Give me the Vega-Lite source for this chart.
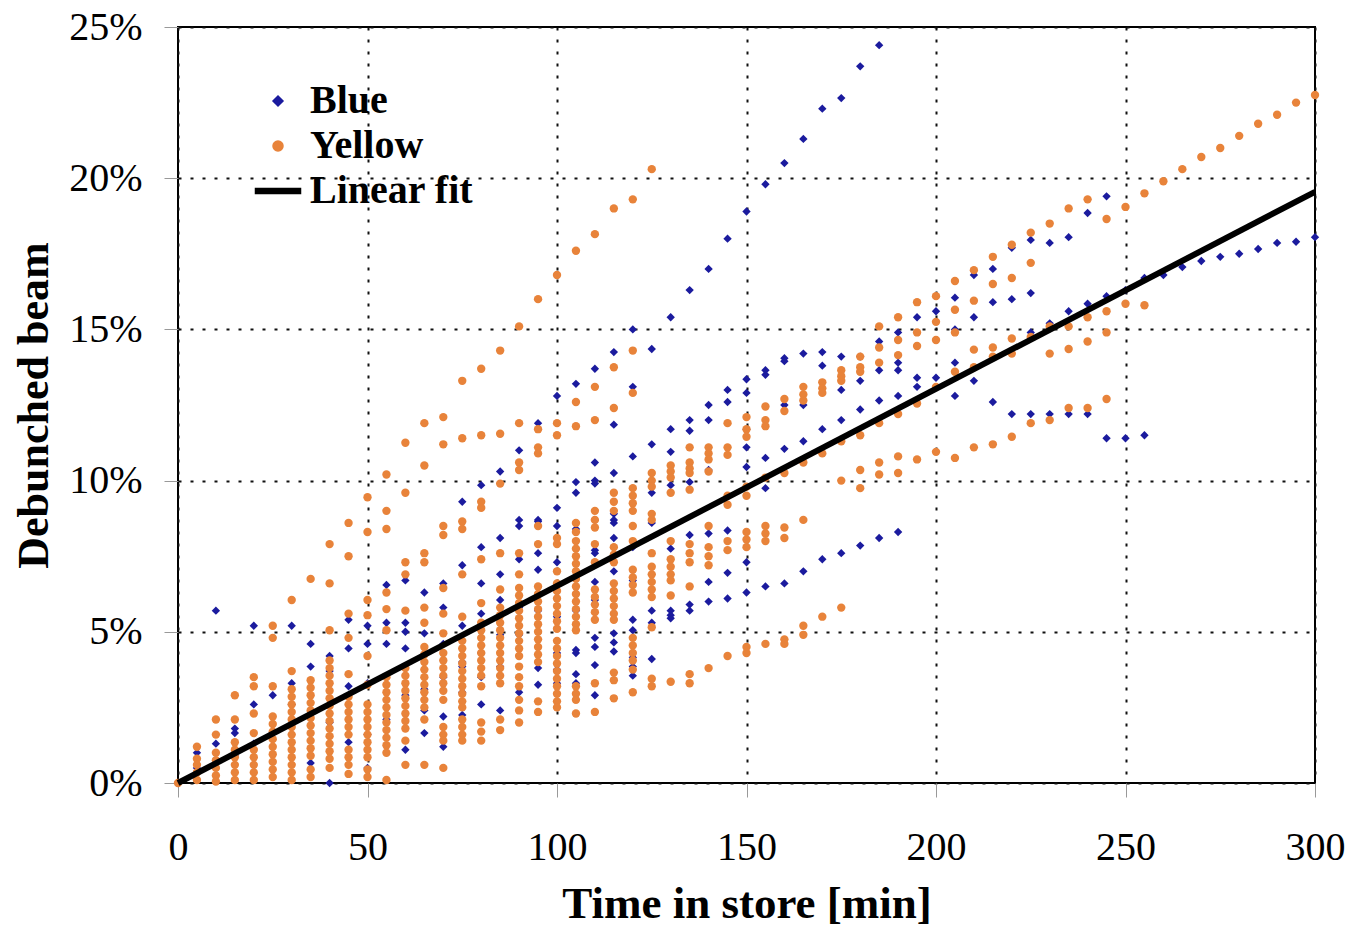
{
"$schema": "https://vega.github.io/schema/vega-lite/v6.json",
"width": 1137, "height": 756,
"autosize": "none",
"padding": {"left": 178, "top": 27, "right": 38, "bottom": 144},
"background": "white",
"config": {"view": {"stroke": "black", "strokeWidth": 2}, "font": "Liberation Serif"},
"datasets": {
"fit": [{"time": 0, "pct": 0, "series": "Linear fit"}, {"time": 300, "pct": 19.55, "series": "Linear fit"}],
"pts": [
{"time":0,"pct":0,"series":"Blue"},
{"time":5,"pct":1.0,"series":"Blue"},{"time":5,"pct":0.5,"series":"Blue"},
{"time":10,"pct":5.7,"series":"Blue"},{"time":10,"pct":1.3,"series":"Blue"},
{"time":15,"pct":1.8,"series":"Blue"},{"time":15,"pct":1.65,"series":"Blue"},{"time":15,"pct":0.9,"series":"Blue"},
{"time":20,"pct":5.2,"series":"Blue"},{"time":20,"pct":2.6,"series":"Blue"},{"time":20,"pct":1.3,"series":"Blue"},
{"time":25,"pct":2.9,"series":"Blue"},{"time":25,"pct":1.65,"series":"Blue"},
{"time":30,"pct":5.2,"series":"Blue"},{"time":30,"pct":3.3,"series":"Blue"},{"time":30,"pct":2.6,"series":"Blue"},
{"time":35,"pct":4.6,"series":"Blue"},{"time":35,"pct":3.85,"series":"Blue"},{"time":35,"pct":0.66,"series":"Blue"},
{"time":40,"pct":4.2,"series":"Blue"},{"time":40,"pct":3.7,"series":"Blue"},{"time":40,"pct":2.0,"series":"Blue"},{"time":40,"pct":0.0,"series":"Blue"},
{"time":45,"pct":5.4,"series":"Blue"},{"time":45,"pct":4.45,"series":"Blue"},{"time":45,"pct":3.2,"series":"Blue"},{"time":45,"pct":1.35,"series":"Blue"},
{"time":50,"pct":5.2,"series":"Blue"},{"time":50,"pct":4.6,"series":"Blue"},{"time":50,"pct":3.3,"series":"Blue"},{"time":50,"pct":1.6,"series":"Blue"},{"time":50,"pct":0.5,"series":"Blue"},
{"time":55,"pct":6.55,"series":"Blue"},{"time":55,"pct":5.3,"series":"Blue"},{"time":55,"pct":4.6,"series":"Blue"},{"time":55,"pct":2.1,"series":"Blue"},
{"time":60,"pct":6.7,"series":"Blue"},{"time":60,"pct":5.3,"series":"Blue"},{"time":60,"pct":5.0,"series":"Blue"},{"time":60,"pct":4.45,"series":"Blue"},{"time":60,"pct":2.9,"series":"Blue"},{"time":60,"pct":1.1,"series":"Blue"},
{"time":65,"pct":6.3,"series":"Blue"},{"time":65,"pct":4.95,"series":"Blue"},{"time":65,"pct":3.1,"series":"Blue"},{"time":65,"pct":2.4,"series":"Blue"},{"time":65,"pct":1.65,"series":"Blue"},
{"time":70,"pct":6.6,"series":"Blue"},{"time":70,"pct":5.8,"series":"Blue"},{"time":70,"pct":4.6,"series":"Blue"},{"time":70,"pct":3.5,"series":"Blue"},{"time":70,"pct":2.2,"series":"Blue"},{"time":70,"pct":1.2,"series":"Blue"},
{"time":75,"pct":9.3,"series":"Blue"},{"time":75,"pct":7.2,"series":"Blue"},{"time":75,"pct":5.2,"series":"Blue"},{"time":75,"pct":4.0,"series":"Blue"},{"time":75,"pct":3.85,"series":"Blue"},{"time":75,"pct":3.0,"series":"Blue"},{"time":75,"pct":2.25,"series":"Blue"},
{"time":80,"pct":9.85,"series":"Blue"},{"time":80,"pct":7.8,"series":"Blue"},{"time":80,"pct":6.6,"series":"Blue"},{"time":80,"pct":5.6,"series":"Blue"},{"time":80,"pct":4.3,"series":"Blue"},{"time":80,"pct":3.5,"series":"Blue"},{"time":80,"pct":2.6,"series":"Blue"},
{"time":85,"pct":10.3,"series":"Blue"},{"time":85,"pct":8.1,"series":"Blue"},{"time":85,"pct":6.9,"series":"Blue"},{"time":85,"pct":6.05,"series":"Blue"},{"time":85,"pct":4.9,"series":"Blue"},{"time":85,"pct":3.85,"series":"Blue"},{"time":85,"pct":2.4,"series":"Blue"},
{"time":90,"pct":11.0,"series":"Blue"},{"time":90,"pct":8.7,"series":"Blue"},{"time":90,"pct":8.5,"series":"Blue"},{"time":90,"pct":7.4,"series":"Blue"},{"time":90,"pct":5.8,"series":"Blue"},{"time":90,"pct":4.9,"series":"Blue"},{"time":90,"pct":3.0,"series":"Blue"},
{"time":95,"pct":11.9,"series":"Blue"},{"time":95,"pct":8.7,"series":"Blue"},{"time":95,"pct":8.65,"series":"Blue"},{"time":95,"pct":7.6,"series":"Blue"},{"time":95,"pct":7.05,"series":"Blue"},{"time":95,"pct":5.7,"series":"Blue"},{"time":95,"pct":3.8,"series":"Blue"},{"time":95,"pct":3.25,"series":"Blue"},
{"time":100,"pct":12.8,"series":"Blue"},{"time":100,"pct":9.1,"series":"Blue"},{"time":100,"pct":8.5,"series":"Blue"},{"time":100,"pct":7.3,"series":"Blue"},{"time":100,"pct":5.5,"series":"Blue"},{"time":100,"pct":4.3,"series":"Blue"},{"time":100,"pct":3.75,"series":"Blue"},{"time":100,"pct":3.3,"series":"Blue"},
{"time":105,"pct":13.2,"series":"Blue"},{"time":105,"pct":9.95,"series":"Blue"},{"time":105,"pct":9.6,"series":"Blue"},{"time":105,"pct":8.4,"series":"Blue"},{"time":105,"pct":5.7,"series":"Blue"},{"time":105,"pct":4.4,"series":"Blue"},{"time":105,"pct":4.3,"series":"Blue"},{"time":105,"pct":3.6,"series":"Blue"},{"time":105,"pct":3.3,"series":"Blue"},
{"time":110,"pct":13.7,"series":"Blue"},{"time":110,"pct":10.6,"series":"Blue"},{"time":110,"pct":10.0,"series":"Blue"},{"time":110,"pct":9.9,"series":"Blue"},{"time":110,"pct":8.7,"series":"Blue"},{"time":110,"pct":7.7,"series":"Blue"},{"time":110,"pct":7.6,"series":"Blue"},{"time":110,"pct":6.65,"series":"Blue"},{"time":110,"pct":6.05,"series":"Blue"},{"time":110,"pct":4.8,"series":"Blue"},{"time":110,"pct":4.5,"series":"Blue"},{"time":110,"pct":3.9,"series":"Blue"},{"time":110,"pct":2.9,"series":"Blue"},
{"time":115,"pct":14.25,"series":"Blue"},{"time":115,"pct":11.85,"series":"Blue"},{"time":115,"pct":10.25,"series":"Blue"},{"time":115,"pct":8.9,"series":"Blue"},{"time":115,"pct":8.7,"series":"Blue"},{"time":115,"pct":8.6,"series":"Blue"},{"time":115,"pct":8.1,"series":"Blue"},{"time":115,"pct":7.0,"series":"Blue"},{"time":115,"pct":4.95,"series":"Blue"},{"time":115,"pct":4.65,"series":"Blue"},{"time":115,"pct":4.35,"series":"Blue"},
{"time":120,"pct":15.0,"series":"Blue"},{"time":120,"pct":13.1,"series":"Blue"},{"time":120,"pct":10.8,"series":"Blue"},{"time":120,"pct":7.8,"series":"Blue"},{"time":120,"pct":6.7,"series":"Blue"},{"time":120,"pct":5.4,"series":"Blue"},{"time":120,"pct":5.05,"series":"Blue"},{"time":120,"pct":4.15,"series":"Blue"},{"time":120,"pct":3.85,"series":"Blue"},{"time":120,"pct":3.55,"series":"Blue"},
{"time":125,"pct":14.35,"series":"Blue"},{"time":125,"pct":11.2,"series":"Blue"},{"time":125,"pct":9.6,"series":"Blue"},{"time":125,"pct":8.6,"series":"Blue"},{"time":125,"pct":5.7,"series":"Blue"},{"time":125,"pct":5.3,"series":"Blue"},{"time":125,"pct":4.1,"series":"Blue"},
{"time":130,"pct":15.4,"series":"Blue"},{"time":130,"pct":11.7,"series":"Blue"},{"time":130,"pct":10.95,"series":"Blue"},{"time":130,"pct":9.85,"series":"Blue"},{"time":130,"pct":7.75,"series":"Blue"},{"time":130,"pct":5.7,"series":"Blue"},{"time":130,"pct":5.55,"series":"Blue"},{"time":130,"pct":5.45,"series":"Blue"},
{"time":135,"pct":16.3,"series":"Blue"},{"time":135,"pct":12.0,"series":"Blue"},{"time":135,"pct":11.65,"series":"Blue"},{"time":135,"pct":9.95,"series":"Blue"},{"time":135,"pct":8.2,"series":"Blue"},{"time":135,"pct":5.9,"series":"Blue"},{"time":135,"pct":5.7,"series":"Blue"},
{"time":140,"pct":17.0,"series":"Blue"},{"time":140,"pct":12.5,"series":"Blue"},{"time":140,"pct":12.0,"series":"Blue"},{"time":140,"pct":10.35,"series":"Blue"},{"time":140,"pct":8.25,"series":"Blue"},{"time":140,"pct":6.65,"series":"Blue"},{"time":140,"pct":6.0,"series":"Blue"},
{"time":145,"pct":18.0,"series":"Blue"},{"time":145,"pct":13.0,"series":"Blue"},{"time":145,"pct":12.6,"series":"Blue"},{"time":145,"pct":8.35,"series":"Blue"},{"time":145,"pct":6.95,"series":"Blue"},{"time":145,"pct":6.1,"series":"Blue"},
{"time":150,"pct":18.9,"series":"Blue"},{"time":150,"pct":13.35,"series":"Blue"},{"time":150,"pct":12.9,"series":"Blue"},{"time":150,"pct":11.7,"series":"Blue"},{"time":150,"pct":11.1,"series":"Blue"},{"time":150,"pct":10.45,"series":"Blue"},{"time":150,"pct":7.3,"series":"Blue"},{"time":150,"pct":6.3,"series":"Blue"},
{"time":155,"pct":19.8,"series":"Blue"},{"time":155,"pct":13.65,"series":"Blue"},{"time":155,"pct":13.5,"series":"Blue"},{"time":155,"pct":10.75,"series":"Blue"},{"time":155,"pct":9.75,"series":"Blue"},{"time":155,"pct":6.5,"series":"Blue"},
{"time":160,"pct":20.5,"series":"Blue"},{"time":160,"pct":14.05,"series":"Blue"},{"time":160,"pct":13.95,"series":"Blue"},{"time":160,"pct":12.5,"series":"Blue"},{"time":160,"pct":11.05,"series":"Blue"},{"time":160,"pct":6.6,"series":"Blue"},
{"time":165,"pct":21.3,"series":"Blue"},{"time":165,"pct":14.2,"series":"Blue"},{"time":165,"pct":12.5,"series":"Blue"},{"time":165,"pct":11.3,"series":"Blue"},{"time":165,"pct":7.0,"series":"Blue"},
{"time":170,"pct":22.3,"series":"Blue"},{"time":170,"pct":14.25,"series":"Blue"},{"time":170,"pct":13.8,"series":"Blue"},{"time":170,"pct":11.7,"series":"Blue"},{"time":170,"pct":7.4,"series":"Blue"},
{"time":175,"pct":22.65,"series":"Blue"},{"time":175,"pct":14.1,"series":"Blue"},{"time":175,"pct":13.0,"series":"Blue"},{"time":175,"pct":12.0,"series":"Blue"},{"time":175,"pct":7.6,"series":"Blue"},
{"time":180,"pct":23.7,"series":"Blue"},{"time":180,"pct":14.1,"series":"Blue"},{"time":180,"pct":13.3,"series":"Blue"},{"time":180,"pct":12.35,"series":"Blue"},{"time":180,"pct":7.85,"series":"Blue"},
{"time":185,"pct":24.4,"series":"Blue"},{"time":185,"pct":14.6,"series":"Blue"},{"time":185,"pct":13.65,"series":"Blue"},{"time":185,"pct":12.65,"series":"Blue"},{"time":185,"pct":8.1,"series":"Blue"},
{"time":190,"pct":14.9,"series":"Blue"},{"time":190,"pct":13.9,"series":"Blue"},{"time":190,"pct":13.65,"series":"Blue"},{"time":190,"pct":12.8,"series":"Blue"},{"time":190,"pct":8.3,"series":"Blue"},
{"time":195,"pct":15.4,"series":"Blue"},{"time":195,"pct":13.4,"series":"Blue"},{"time":195,"pct":13.1,"series":"Blue"},
{"time":200,"pct":15.6,"series":"Blue"},{"time":200,"pct":13.4,"series":"Blue"},
{"time":205,"pct":16.05,"series":"Blue"},{"time":205,"pct":15.0,"series":"Blue"},{"time":205,"pct":13.9,"series":"Blue"},{"time":205,"pct":12.8,"series":"Blue"},
{"time":210,"pct":16.8,"series":"Blue"},{"time":210,"pct":15.4,"series":"Blue"},{"time":210,"pct":13.3,"series":"Blue"},
{"time":215,"pct":17.0,"series":"Blue"},{"time":215,"pct":15.9,"series":"Blue"},{"time":215,"pct":12.6,"series":"Blue"},
{"time":220,"pct":17.7,"series":"Blue"},{"time":220,"pct":16.0,"series":"Blue"},{"time":220,"pct":12.2,"series":"Blue"},
{"time":225,"pct":17.96,"series":"Blue"},{"time":225,"pct":16.2,"series":"Blue"},{"time":225,"pct":14.9,"series":"Blue"},{"time":225,"pct":12.2,"series":"Blue"},
{"time":230,"pct":17.86,"series":"Blue"},{"time":230,"pct":15.2,"series":"Blue"},{"time":230,"pct":12.2,"series":"Blue"},
{"time":235,"pct":18.05,"series":"Blue"},{"time":235,"pct":15.6,"series":"Blue"},{"time":235,"pct":12.2,"series":"Blue"},
{"time":240,"pct":18.85,"series":"Blue"},{"time":240,"pct":15.85,"series":"Blue"},{"time":240,"pct":12.2,"series":"Blue"},
{"time":245,"pct":19.4,"series":"Blue"},{"time":245,"pct":16.1,"series":"Blue"},{"time":245,"pct":11.4,"series":"Blue"},
{"time":250,"pct":16.3,"series":"Blue"},{"time":250,"pct":11.4,"series":"Blue"},
{"time":255,"pct":16.7,"series":"Blue"},{"time":255,"pct":11.5,"series":"Blue"},
{"time":260,"pct":16.8,"series":"Blue"},{"time":265,"pct":17.06,"series":"Blue"},{"time":270,"pct":17.26,"series":"Blue"},{"time":275,"pct":17.4,"series":"Blue"},{"time":280,"pct":17.5,"series":"Blue"},{"time":285,"pct":17.66,"series":"Blue"},{"time":290,"pct":17.86,"series":"Blue"},{"time":295,"pct":17.9,"series":"Blue"},{"time":300,"pct":18.05,"series":"Blue"},
{"time":0,"pct":0,"series":"Yellow"},
{"time":5,"pct":1.2,"series":"Yellow"},{"time":5,"pct":0.8,"series":"Yellow"},{"time":5,"pct":0.6,"series":"Yellow"},{"time":5,"pct":0.35,"series":"Yellow"},{"time":5,"pct":0.1,"series":"Yellow"},
{"time":10,"pct":2.1,"series":"Yellow"},{"time":10,"pct":1.6,"series":"Yellow"},{"time":10,"pct":1.0,"series":"Yellow"},{"time":10,"pct":0.75,"series":"Yellow"},{"time":10,"pct":0.5,"series":"Yellow"},{"time":10,"pct":0.25,"series":"Yellow"},{"time":10,"pct":0.05,"series":"Yellow"},
{"time":15,"pct":2.9,"series":"Yellow"},{"time":15,"pct":2.1,"series":"Yellow"},{"time":15,"pct":1.35,"series":"Yellow"},{"time":15,"pct":1.1,"series":"Yellow"},{"time":15,"pct":0.85,"series":"Yellow"},{"time":15,"pct":0.6,"series":"Yellow"},{"time":15,"pct":0.35,"series":"Yellow"},{"time":15,"pct":0.1,"series":"Yellow"},
{"time":20,"pct":3.5,"series":"Yellow"},{"time":20,"pct":3.2,"series":"Yellow"},{"time":20,"pct":2.3,"series":"Yellow"},{"time":20,"pct":1.65,"series":"Yellow"},{"time":20,"pct":1.1,"series":"Yellow"},{"time":20,"pct":0.85,"series":"Yellow"},{"time":20,"pct":0.6,"series":"Yellow"},{"time":20,"pct":0.35,"series":"Yellow"},{"time":20,"pct":0.1,"series":"Yellow"},
{"time":25,"pct":5.2,"series":"Yellow"},{"time":25,"pct":4.8,"series":"Yellow"},{"time":25,"pct":3.2,"series":"Yellow"},{"time":25,"pct":2.2,"series":"Yellow"},{"time":25,"pct":1.95,"series":"Yellow"},{"time":25,"pct":1.7,"series":"Yellow"},{"time":25,"pct":1.45,"series":"Yellow"},{"time":25,"pct":1.2,"series":"Yellow"},{"time":25,"pct":0.95,"series":"Yellow"},{"time":25,"pct":0.7,"series":"Yellow"},{"time":25,"pct":0.45,"series":"Yellow"},{"time":25,"pct":0.2,"series":"Yellow"},
{"time":30,"pct":6.05,"series":"Yellow"},{"time":30,"pct":3.7,"series":"Yellow"},{"time":30,"pct":3.1,"series":"Yellow"},{"time":30,"pct":2.85,"series":"Yellow"},{"time":30,"pct":2.6,"series":"Yellow"},{"time":30,"pct":2.35,"series":"Yellow"},{"time":30,"pct":2.1,"series":"Yellow"},{"time":30,"pct":1.85,"series":"Yellow"},{"time":30,"pct":1.6,"series":"Yellow"},{"time":30,"pct":1.35,"series":"Yellow"},{"time":30,"pct":1.1,"series":"Yellow"},{"time":30,"pct":0.85,"series":"Yellow"},{"time":30,"pct":0.6,"series":"Yellow"},{"time":30,"pct":0.35,"series":"Yellow"},{"time":30,"pct":0.1,"series":"Yellow"},
{"time":35,"pct":6.75,"series":"Yellow"},{"time":35,"pct":3.4,"series":"Yellow"},{"time":35,"pct":3.15,"series":"Yellow"},{"time":35,"pct":2.9,"series":"Yellow"},{"time":35,"pct":2.65,"series":"Yellow"},{"time":35,"pct":2.4,"series":"Yellow"},{"time":35,"pct":2.15,"series":"Yellow"},{"time":35,"pct":1.9,"series":"Yellow"},{"time":35,"pct":1.65,"series":"Yellow"},{"time":35,"pct":1.4,"series":"Yellow"},{"time":35,"pct":1.15,"series":"Yellow"},{"time":35,"pct":0.9,"series":"Yellow"},{"time":35,"pct":0.45,"series":"Yellow"},{"time":35,"pct":0.2,"series":"Yellow"},
{"time":40,"pct":7.9,"series":"Yellow"},{"time":40,"pct":6.6,"series":"Yellow"},{"time":40,"pct":5.05,"series":"Yellow"},{"time":40,"pct":4.05,"series":"Yellow"},{"time":40,"pct":3.8,"series":"Yellow"},{"time":40,"pct":3.55,"series":"Yellow"},{"time":40,"pct":3.3,"series":"Yellow"},{"time":40,"pct":3.05,"series":"Yellow"},{"time":40,"pct":2.8,"series":"Yellow"},{"time":40,"pct":2.55,"series":"Yellow"},{"time":40,"pct":2.3,"series":"Yellow"},{"time":40,"pct":2.05,"series":"Yellow"},{"time":40,"pct":1.8,"series":"Yellow"},{"time":40,"pct":1.55,"series":"Yellow"},{"time":40,"pct":1.3,"series":"Yellow"},{"time":40,"pct":1.05,"series":"Yellow"},{"time":40,"pct":0.8,"series":"Yellow"},{"time":40,"pct":0.5,"series":"Yellow"},
{"time":45,"pct":8.6,"series":"Yellow"},{"time":45,"pct":7.5,"series":"Yellow"},{"time":45,"pct":5.6,"series":"Yellow"},{"time":45,"pct":4.8,"series":"Yellow"},{"time":45,"pct":3.6,"series":"Yellow"},{"time":45,"pct":2.85,"series":"Yellow"},{"time":45,"pct":2.6,"series":"Yellow"},{"time":45,"pct":2.35,"series":"Yellow"},{"time":45,"pct":2.1,"series":"Yellow"},{"time":45,"pct":1.85,"series":"Yellow"},{"time":45,"pct":1.6,"series":"Yellow"},{"time":45,"pct":1.1,"series":"Yellow"},{"time":45,"pct":0.85,"series":"Yellow"},{"time":45,"pct":0.6,"series":"Yellow"},{"time":45,"pct":0.3,"series":"Yellow"},
{"time":50,"pct":9.45,"series":"Yellow"},{"time":50,"pct":8.3,"series":"Yellow"},{"time":50,"pct":6.05,"series":"Yellow"},{"time":50,"pct":5.55,"series":"Yellow"},{"time":50,"pct":4.2,"series":"Yellow"},{"time":50,"pct":3.25,"series":"Yellow"},{"time":50,"pct":2.6,"series":"Yellow"},{"time":50,"pct":2.35,"series":"Yellow"},{"time":50,"pct":2.1,"series":"Yellow"},{"time":50,"pct":1.85,"series":"Yellow"},{"time":50,"pct":1.6,"series":"Yellow"},{"time":50,"pct":1.35,"series":"Yellow"},{"time":50,"pct":1.1,"series":"Yellow"},{"time":50,"pct":0.85,"series":"Yellow"},{"time":50,"pct":0.45,"series":"Yellow"},{"time":50,"pct":0.2,"series":"Yellow"},
{"time":55,"pct":10.2,"series":"Yellow"},{"time":55,"pct":9.0,"series":"Yellow"},{"time":55,"pct":8.4,"series":"Yellow"},{"time":55,"pct":6.3,"series":"Yellow"},{"time":55,"pct":5.75,"series":"Yellow"},{"time":55,"pct":5.05,"series":"Yellow"},{"time":55,"pct":3.5,"series":"Yellow"},{"time":55,"pct":3.25,"series":"Yellow"},{"time":55,"pct":3.0,"series":"Yellow"},{"time":55,"pct":2.75,"series":"Yellow"},{"time":55,"pct":2.5,"series":"Yellow"},{"time":55,"pct":2.25,"series":"Yellow"},{"time":55,"pct":2.0,"series":"Yellow"},{"time":55,"pct":1.75,"series":"Yellow"},{"time":55,"pct":1.5,"series":"Yellow"},{"time":55,"pct":1.25,"series":"Yellow"},{"time":55,"pct":1.0,"series":"Yellow"},{"time":55,"pct":0.1,"series":"Yellow"},
{"time":60,"pct":11.25,"series":"Yellow"},{"time":60,"pct":9.6,"series":"Yellow"},{"time":60,"pct":7.3,"series":"Yellow"},{"time":60,"pct":6.9,"series":"Yellow"},{"time":60,"pct":5.7,"series":"Yellow"},{"time":60,"pct":3.8,"series":"Yellow"},{"time":60,"pct":3.55,"series":"Yellow"},{"time":60,"pct":3.3,"series":"Yellow"},{"time":60,"pct":3.05,"series":"Yellow"},{"time":60,"pct":2.8,"series":"Yellow"},{"time":60,"pct":2.55,"series":"Yellow"},{"time":60,"pct":2.3,"series":"Yellow"},{"time":60,"pct":2.05,"series":"Yellow"},{"time":60,"pct":1.8,"series":"Yellow"},{"time":60,"pct":1.4,"series":"Yellow"},{"time":60,"pct":0.6,"series":"Yellow"},
{"time":65,"pct":11.9,"series":"Yellow"},{"time":65,"pct":10.5,"series":"Yellow"},{"time":65,"pct":7.6,"series":"Yellow"},{"time":65,"pct":7.3,"series":"Yellow"},{"time":65,"pct":5.8,"series":"Yellow"},{"time":65,"pct":5.3,"series":"Yellow"},{"time":65,"pct":4.5,"series":"Yellow"},{"time":65,"pct":4.25,"series":"Yellow"},{"time":65,"pct":4.0,"series":"Yellow"},{"time":65,"pct":3.75,"series":"Yellow"},{"time":65,"pct":3.5,"series":"Yellow"},{"time":65,"pct":3.25,"series":"Yellow"},{"time":65,"pct":3.0,"series":"Yellow"},{"time":65,"pct":2.75,"series":"Yellow"},{"time":65,"pct":2.5,"series":"Yellow"},{"time":65,"pct":2.1,"series":"Yellow"},{"time":65,"pct":0.6,"series":"Yellow"},
{"time":70,"pct":12.1,"series":"Yellow"},{"time":70,"pct":11.2,"series":"Yellow"},{"time":70,"pct":8.5,"series":"Yellow"},{"time":70,"pct":8.2,"series":"Yellow"},{"time":70,"pct":6.45,"series":"Yellow"},{"time":70,"pct":5.6,"series":"Yellow"},{"time":70,"pct":4.95,"series":"Yellow"},{"time":70,"pct":4.3,"series":"Yellow"},{"time":70,"pct":4.05,"series":"Yellow"},{"time":70,"pct":3.8,"series":"Yellow"},{"time":70,"pct":3.55,"series":"Yellow"},{"time":70,"pct":3.3,"series":"Yellow"},{"time":70,"pct":3.05,"series":"Yellow"},{"time":70,"pct":2.75,"series":"Yellow"},{"time":70,"pct":1.85,"series":"Yellow"},{"time":70,"pct":1.6,"series":"Yellow"},{"time":70,"pct":1.4,"series":"Yellow"},{"time":70,"pct":0.5,"series":"Yellow"},
{"time":75,"pct":13.3,"series":"Yellow"},{"time":75,"pct":11.4,"series":"Yellow"},{"time":75,"pct":8.65,"series":"Yellow"},{"time":75,"pct":8.4,"series":"Yellow"},{"time":75,"pct":6.9,"series":"Yellow"},{"time":75,"pct":5.5,"series":"Yellow"},{"time":75,"pct":4.7,"series":"Yellow"},{"time":75,"pct":4.45,"series":"Yellow"},{"time":75,"pct":4.2,"series":"Yellow"},{"time":75,"pct":3.95,"series":"Yellow"},{"time":75,"pct":3.7,"series":"Yellow"},{"time":75,"pct":3.45,"series":"Yellow"},{"time":75,"pct":3.2,"series":"Yellow"},{"time":75,"pct":2.95,"series":"Yellow"},{"time":75,"pct":2.7,"series":"Yellow"},{"time":75,"pct":2.5,"series":"Yellow"},{"time":75,"pct":2.1,"series":"Yellow"},{"time":75,"pct":1.85,"series":"Yellow"},{"time":75,"pct":1.6,"series":"Yellow"},{"time":75,"pct":1.4,"series":"Yellow"},
{"time":80,"pct":13.7,"series":"Yellow"},{"time":80,"pct":11.5,"series":"Yellow"},{"time":80,"pct":9.3,"series":"Yellow"},{"time":80,"pct":9.1,"series":"Yellow"},{"time":80,"pct":7.4,"series":"Yellow"},{"time":80,"pct":5.95,"series":"Yellow"},{"time":80,"pct":5.3,"series":"Yellow"},{"time":80,"pct":5.05,"series":"Yellow"},{"time":80,"pct":4.8,"series":"Yellow"},{"time":80,"pct":4.55,"series":"Yellow"},{"time":80,"pct":4.3,"series":"Yellow"},{"time":80,"pct":4.05,"series":"Yellow"},{"time":80,"pct":3.8,"series":"Yellow"},{"time":80,"pct":3.55,"series":"Yellow"},{"time":80,"pct":3.2,"series":"Yellow"},{"time":80,"pct":2.0,"series":"Yellow"},{"time":80,"pct":1.7,"series":"Yellow"},{"time":80,"pct":1.4,"series":"Yellow"},
{"time":85,"pct":14.3,"series":"Yellow"},{"time":85,"pct":11.55,"series":"Yellow"},{"time":85,"pct":9.9,"series":"Yellow"},{"time":85,"pct":7.6,"series":"Yellow"},{"time":85,"pct":6.4,"series":"Yellow"},{"time":85,"pct":5.8,"series":"Yellow"},{"time":85,"pct":5.55,"series":"Yellow"},{"time":85,"pct":5.3,"series":"Yellow"},{"time":85,"pct":5.05,"series":"Yellow"},{"time":85,"pct":4.8,"series":"Yellow"},{"time":85,"pct":4.55,"series":"Yellow"},{"time":85,"pct":4.3,"series":"Yellow"},{"time":85,"pct":4.05,"series":"Yellow"},{"time":85,"pct":3.8,"series":"Yellow"},{"time":85,"pct":3.55,"series":"Yellow"},{"time":85,"pct":3.3,"series":"Yellow"},{"time":85,"pct":2.1,"series":"Yellow"},{"time":85,"pct":1.75,"series":"Yellow"},
{"time":90,"pct":15.1,"series":"Yellow"},{"time":90,"pct":11.9,"series":"Yellow"},{"time":90,"pct":10.6,"series":"Yellow"},{"time":90,"pct":10.35,"series":"Yellow"},{"time":90,"pct":7.6,"series":"Yellow"},{"time":90,"pct":6.9,"series":"Yellow"},{"time":90,"pct":6.45,"series":"Yellow"},{"time":90,"pct":6.2,"series":"Yellow"},{"time":90,"pct":5.95,"series":"Yellow"},{"time":90,"pct":5.7,"series":"Yellow"},{"time":90,"pct":5.45,"series":"Yellow"},{"time":90,"pct":5.2,"series":"Yellow"},{"time":90,"pct":4.95,"series":"Yellow"},{"time":90,"pct":4.7,"series":"Yellow"},{"time":90,"pct":4.45,"series":"Yellow"},{"time":90,"pct":4.2,"series":"Yellow"},{"time":90,"pct":3.85,"series":"Yellow"},{"time":90,"pct":3.5,"series":"Yellow"},{"time":90,"pct":3.2,"series":"Yellow"},{"time":90,"pct":2.75,"series":"Yellow"},{"time":90,"pct":2.4,"series":"Yellow"},{"time":90,"pct":2.0,"series":"Yellow"},
{"time":95,"pct":16.0,"series":"Yellow"},{"time":95,"pct":11.7,"series":"Yellow"},{"time":95,"pct":11.1,"series":"Yellow"},{"time":95,"pct":10.9,"series":"Yellow"},{"time":95,"pct":8.5,"series":"Yellow"},{"time":95,"pct":7.9,"series":"Yellow"},{"time":95,"pct":6.5,"series":"Yellow"},{"time":95,"pct":6.25,"series":"Yellow"},{"time":95,"pct":6.0,"series":"Yellow"},{"time":95,"pct":5.75,"series":"Yellow"},{"time":95,"pct":5.5,"series":"Yellow"},{"time":95,"pct":5.25,"series":"Yellow"},{"time":95,"pct":5.0,"series":"Yellow"},{"time":95,"pct":4.75,"series":"Yellow"},{"time":95,"pct":4.5,"series":"Yellow"},{"time":95,"pct":4.25,"series":"Yellow"},{"time":95,"pct":4.0,"series":"Yellow"},{"time":95,"pct":2.7,"series":"Yellow"},{"time":95,"pct":2.35,"series":"Yellow"},
{"time":100,"pct":16.8,"series":"Yellow"},{"time":100,"pct":11.9,"series":"Yellow"},{"time":100,"pct":11.5,"series":"Yellow"},{"time":100,"pct":8.1,"series":"Yellow"},{"time":100,"pct":7.9,"series":"Yellow"},{"time":100,"pct":7.0,"series":"Yellow"},{"time":100,"pct":6.6,"series":"Yellow"},{"time":100,"pct":6.35,"series":"Yellow"},{"time":100,"pct":6.1,"series":"Yellow"},{"time":100,"pct":5.85,"series":"Yellow"},{"time":100,"pct":5.6,"series":"Yellow"},{"time":100,"pct":5.35,"series":"Yellow"},{"time":100,"pct":5.1,"series":"Yellow"},{"time":100,"pct":4.7,"series":"Yellow"},{"time":100,"pct":4.45,"series":"Yellow"},{"time":100,"pct":4.2,"series":"Yellow"},{"time":100,"pct":3.95,"series":"Yellow"},{"time":100,"pct":3.7,"series":"Yellow"},{"time":100,"pct":3.45,"series":"Yellow"},{"time":100,"pct":3.2,"series":"Yellow"},{"time":100,"pct":2.95,"series":"Yellow"},{"time":100,"pct":2.7,"series":"Yellow"},{"time":100,"pct":2.5,"series":"Yellow"},
{"time":105,"pct":17.6,"series":"Yellow"},{"time":105,"pct":12.6,"series":"Yellow"},{"time":105,"pct":11.8,"series":"Yellow"},{"time":105,"pct":8.6,"series":"Yellow"},{"time":105,"pct":8.3,"series":"Yellow"},{"time":105,"pct":8.0,"series":"Yellow"},{"time":105,"pct":7.75,"series":"Yellow"},{"time":105,"pct":7.5,"series":"Yellow"},{"time":105,"pct":7.25,"series":"Yellow"},{"time":105,"pct":7.0,"series":"Yellow"},{"time":105,"pct":6.75,"series":"Yellow"},{"time":105,"pct":6.5,"series":"Yellow"},{"time":105,"pct":6.25,"series":"Yellow"},{"time":105,"pct":6.0,"series":"Yellow"},{"time":105,"pct":5.75,"series":"Yellow"},{"time":105,"pct":5.5,"series":"Yellow"},{"time":105,"pct":5.25,"series":"Yellow"},{"time":105,"pct":5.05,"series":"Yellow"},{"time":105,"pct":3.2,"series":"Yellow"},{"time":105,"pct":2.95,"series":"Yellow"},{"time":105,"pct":2.75,"series":"Yellow"},{"time":105,"pct":2.3,"series":"Yellow"},
{"time":110,"pct":18.15,"series":"Yellow"},{"time":110,"pct":13.1,"series":"Yellow"},{"time":110,"pct":12.0,"series":"Yellow"},{"time":110,"pct":9.0,"series":"Yellow"},{"time":110,"pct":8.7,"series":"Yellow"},{"time":110,"pct":8.45,"series":"Yellow"},{"time":110,"pct":7.9,"series":"Yellow"},{"time":110,"pct":7.3,"series":"Yellow"},{"time":110,"pct":6.4,"series":"Yellow"},{"time":110,"pct":6.15,"series":"Yellow"},{"time":110,"pct":5.9,"series":"Yellow"},{"time":110,"pct":5.65,"series":"Yellow"},{"time":110,"pct":5.4,"series":"Yellow"},{"time":110,"pct":3.3,"series":"Yellow"},{"time":110,"pct":2.35,"series":"Yellow"},
{"time":115,"pct":19.0,"series":"Yellow"},{"time":115,"pct":13.75,"series":"Yellow"},{"time":115,"pct":12.4,"series":"Yellow"},{"time":115,"pct":9.6,"series":"Yellow"},{"time":115,"pct":9.3,"series":"Yellow"},{"time":115,"pct":9.0,"series":"Yellow"},{"time":115,"pct":7.8,"series":"Yellow"},{"time":115,"pct":7.55,"series":"Yellow"},{"time":115,"pct":7.3,"series":"Yellow"},{"time":115,"pct":6.6,"series":"Yellow"},{"time":115,"pct":6.35,"series":"Yellow"},{"time":115,"pct":6.1,"series":"Yellow"},{"time":115,"pct":5.85,"series":"Yellow"},{"time":115,"pct":5.6,"series":"Yellow"},{"time":115,"pct":5.4,"series":"Yellow"},{"time":115,"pct":3.65,"series":"Yellow"},{"time":115,"pct":3.4,"series":"Yellow"},{"time":115,"pct":2.8,"series":"Yellow"},
{"time":120,"pct":19.3,"series":"Yellow"},{"time":120,"pct":14.3,"series":"Yellow"},{"time":120,"pct":12.9,"series":"Yellow"},{"time":120,"pct":9.75,"series":"Yellow"},{"time":120,"pct":9.5,"series":"Yellow"},{"time":120,"pct":9.25,"series":"Yellow"},{"time":120,"pct":9.0,"series":"Yellow"},{"time":120,"pct":8.5,"series":"Yellow"},{"time":120,"pct":8.0,"series":"Yellow"},{"time":120,"pct":7.05,"series":"Yellow"},{"time":120,"pct":6.8,"series":"Yellow"},{"time":120,"pct":6.55,"series":"Yellow"},{"time":120,"pct":6.3,"series":"Yellow"},{"time":120,"pct":4.8,"series":"Yellow"},{"time":120,"pct":4.55,"series":"Yellow"},{"time":120,"pct":4.3,"series":"Yellow"},{"time":120,"pct":4.05,"series":"Yellow"},{"time":120,"pct":3.75,"series":"Yellow"},{"time":120,"pct":3.0,"series":"Yellow"},
{"time":125,"pct":20.3,"series":"Yellow"},{"time":125,"pct":10.25,"series":"Yellow"},{"time":125,"pct":10.0,"series":"Yellow"},{"time":125,"pct":9.8,"series":"Yellow"},{"time":125,"pct":8.9,"series":"Yellow"},{"time":125,"pct":8.7,"series":"Yellow"},{"time":125,"pct":7.6,"series":"Yellow"},{"time":125,"pct":7.15,"series":"Yellow"},{"time":125,"pct":6.9,"series":"Yellow"},{"time":125,"pct":6.65,"series":"Yellow"},{"time":125,"pct":6.4,"series":"Yellow"},{"time":125,"pct":6.15,"series":"Yellow"},{"time":125,"pct":5.15,"series":"Yellow"},{"time":125,"pct":3.45,"series":"Yellow"},{"time":125,"pct":3.2,"series":"Yellow"},
{"time":130,"pct":10.5,"series":"Yellow"},{"time":130,"pct":10.3,"series":"Yellow"},{"time":130,"pct":10.1,"series":"Yellow"},{"time":130,"pct":9.6,"series":"Yellow"},{"time":130,"pct":8.0,"series":"Yellow"},{"time":130,"pct":7.4,"series":"Yellow"},{"time":130,"pct":7.15,"series":"Yellow"},{"time":130,"pct":6.9,"series":"Yellow"},{"time":130,"pct":6.7,"series":"Yellow"},{"time":130,"pct":6.2,"series":"Yellow"},{"time":130,"pct":3.35,"series":"Yellow"},
{"time":135,"pct":11.1,"series":"Yellow"},{"time":135,"pct":10.6,"series":"Yellow"},{"time":135,"pct":10.4,"series":"Yellow"},{"time":135,"pct":10.25,"series":"Yellow"},{"time":135,"pct":9.7,"series":"Yellow"},{"time":135,"pct":7.9,"series":"Yellow"},{"time":135,"pct":7.6,"series":"Yellow"},{"time":135,"pct":7.3,"series":"Yellow"},{"time":135,"pct":6.5,"series":"Yellow"},{"time":135,"pct":3.6,"series":"Yellow"},{"time":135,"pct":3.3,"series":"Yellow"},
{"time":140,"pct":11.1,"series":"Yellow"},{"time":140,"pct":10.9,"series":"Yellow"},{"time":140,"pct":10.7,"series":"Yellow"},{"time":140,"pct":10.3,"series":"Yellow"},{"time":140,"pct":8.5,"series":"Yellow"},{"time":140,"pct":7.8,"series":"Yellow"},{"time":140,"pct":7.5,"series":"Yellow"},{"time":140,"pct":7.2,"series":"Yellow"},{"time":140,"pct":3.8,"series":"Yellow"},
{"time":145,"pct":11.9,"series":"Yellow"},{"time":145,"pct":11.1,"series":"Yellow"},{"time":145,"pct":10.85,"series":"Yellow"},{"time":145,"pct":9.5,"series":"Yellow"},{"time":145,"pct":9.2,"series":"Yellow"},{"time":145,"pct":8.0,"series":"Yellow"},{"time":145,"pct":7.7,"series":"Yellow"},{"time":145,"pct":4.2,"series":"Yellow"},
{"time":150,"pct":12.1,"series":"Yellow"},{"time":150,"pct":11.7,"series":"Yellow"},{"time":150,"pct":11.45,"series":"Yellow"},{"time":150,"pct":9.8,"series":"Yellow"},{"time":150,"pct":9.5,"series":"Yellow"},{"time":150,"pct":8.3,"series":"Yellow"},{"time":150,"pct":8.05,"series":"Yellow"},{"time":150,"pct":7.8,"series":"Yellow"},{"time":150,"pct":4.5,"series":"Yellow"},{"time":150,"pct":4.3,"series":"Yellow"},
{"time":155,"pct":12.45,"series":"Yellow"},{"time":155,"pct":12.0,"series":"Yellow"},{"time":155,"pct":11.8,"series":"Yellow"},{"time":155,"pct":10.1,"series":"Yellow"},{"time":155,"pct":8.5,"series":"Yellow"},{"time":155,"pct":8.25,"series":"Yellow"},{"time":155,"pct":8.0,"series":"Yellow"},{"time":155,"pct":4.6,"series":"Yellow"},
{"time":160,"pct":12.7,"series":"Yellow"},{"time":160,"pct":12.3,"series":"Yellow"},{"time":160,"pct":10.25,"series":"Yellow"},{"time":160,"pct":8.45,"series":"Yellow"},{"time":160,"pct":8.1,"series":"Yellow"},{"time":160,"pct":4.75,"series":"Yellow"},{"time":160,"pct":4.6,"series":"Yellow"},
{"time":165,"pct":13.1,"series":"Yellow"},{"time":165,"pct":12.85,"series":"Yellow"},{"time":165,"pct":12.65,"series":"Yellow"},{"time":165,"pct":10.6,"series":"Yellow"},{"time":165,"pct":8.7,"series":"Yellow"},{"time":165,"pct":5.2,"series":"Yellow"},{"time":165,"pct":4.9,"series":"Yellow"},
{"time":170,"pct":13.25,"series":"Yellow"},{"time":170,"pct":13.05,"series":"Yellow"},{"time":170,"pct":12.9,"series":"Yellow"},{"time":170,"pct":10.9,"series":"Yellow"},{"time":170,"pct":5.5,"series":"Yellow"},
{"time":175,"pct":13.65,"series":"Yellow"},{"time":175,"pct":13.45,"series":"Yellow"},{"time":175,"pct":13.3,"series":"Yellow"},{"time":175,"pct":11.3,"series":"Yellow"},{"time":175,"pct":10.0,"series":"Yellow"},{"time":175,"pct":5.8,"series":"Yellow"},
{"time":180,"pct":14.1,"series":"Yellow"},{"time":180,"pct":13.75,"series":"Yellow"},{"time":180,"pct":13.6,"series":"Yellow"},{"time":180,"pct":11.5,"series":"Yellow"},{"time":180,"pct":10.35,"series":"Yellow"},{"time":180,"pct":9.75,"series":"Yellow"},
{"time":185,"pct":15.1,"series":"Yellow"},{"time":185,"pct":14.4,"series":"Yellow"},{"time":185,"pct":13.9,"series":"Yellow"},{"time":185,"pct":11.9,"series":"Yellow"},{"time":185,"pct":10.6,"series":"Yellow"},{"time":185,"pct":10.2,"series":"Yellow"},
{"time":190,"pct":15.4,"series":"Yellow"},{"time":190,"pct":14.65,"series":"Yellow"},{"time":190,"pct":14.15,"series":"Yellow"},{"time":190,"pct":12.2,"series":"Yellow"},{"time":190,"pct":10.8,"series":"Yellow"},{"time":190,"pct":10.25,"series":"Yellow"},
{"time":195,"pct":15.9,"series":"Yellow"},{"time":195,"pct":14.9,"series":"Yellow"},{"time":195,"pct":14.45,"series":"Yellow"},{"time":195,"pct":12.55,"series":"Yellow"},{"time":195,"pct":10.7,"series":"Yellow"},
{"time":200,"pct":16.1,"series":"Yellow"},{"time":200,"pct":15.25,"series":"Yellow"},{"time":200,"pct":14.65,"series":"Yellow"},{"time":200,"pct":13.1,"series":"Yellow"},{"time":200,"pct":10.95,"series":"Yellow"},
{"time":205,"pct":16.6,"series":"Yellow"},{"time":205,"pct":15.65,"series":"Yellow"},{"time":205,"pct":14.9,"series":"Yellow"},{"time":205,"pct":13.6,"series":"Yellow"},{"time":205,"pct":10.75,"series":"Yellow"},
{"time":210,"pct":16.96,"series":"Yellow"},{"time":210,"pct":15.95,"series":"Yellow"},{"time":210,"pct":14.33,"series":"Yellow"},{"time":210,"pct":13.75,"series":"Yellow"},{"time":210,"pct":11.1,"series":"Yellow"},
{"time":215,"pct":17.4,"series":"Yellow"},{"time":215,"pct":16.5,"series":"Yellow"},{"time":215,"pct":14.4,"series":"Yellow"},{"time":215,"pct":14.1,"series":"Yellow"},{"time":215,"pct":11.2,"series":"Yellow"},
{"time":220,"pct":17.8,"series":"Yellow"},{"time":220,"pct":16.7,"series":"Yellow"},{"time":220,"pct":14.7,"series":"Yellow"},{"time":220,"pct":14.2,"series":"Yellow"},{"time":220,"pct":11.45,"series":"Yellow"},
{"time":225,"pct":18.2,"series":"Yellow"},{"time":225,"pct":17.2,"series":"Yellow"},{"time":225,"pct":14.75,"series":"Yellow"},{"time":225,"pct":11.9,"series":"Yellow"},
{"time":230,"pct":18.5,"series":"Yellow"},{"time":230,"pct":15.1,"series":"Yellow"},{"time":230,"pct":14.2,"series":"Yellow"},{"time":230,"pct":12.0,"series":"Yellow"},
{"time":235,"pct":19.0,"series":"Yellow"},{"time":235,"pct":15.1,"series":"Yellow"},{"time":235,"pct":14.35,"series":"Yellow"},{"time":235,"pct":12.4,"series":"Yellow"},
{"time":240,"pct":19.3,"series":"Yellow"},{"time":240,"pct":15.4,"series":"Yellow"},{"time":240,"pct":14.6,"series":"Yellow"},{"time":240,"pct":12.4,"series":"Yellow"},
{"time":245,"pct":18.65,"series":"Yellow"},{"time":245,"pct":15.6,"series":"Yellow"},{"time":245,"pct":14.9,"series":"Yellow"},{"time":245,"pct":12.7,"series":"Yellow"},
{"time":250,"pct":19.05,"series":"Yellow"},{"time":250,"pct":15.85,"series":"Yellow"},
{"time":255,"pct":19.5,"series":"Yellow"},{"time":255,"pct":15.8,"series":"Yellow"},
{"time":260,"pct":19.9,"series":"Yellow"},{"time":265,"pct":20.3,"series":"Yellow"},{"time":270,"pct":20.7,"series":"Yellow"},{"time":275,"pct":21.0,"series":"Yellow"},{"time":280,"pct":21.4,"series":"Yellow"},{"time":285,"pct":21.8,"series":"Yellow"},{"time":290,"pct":22.1,"series":"Yellow"},{"time":295,"pct":22.5,"series":"Yellow"},{"time":300,"pct":22.75,"series":"Yellow"}
]
},
"layer": [
{
"data": {"name": "pts"},
"mark": {"type": "point", "filled": true, "opacity": 1, "size": 70},
"encoding": {
"x": {"field": "time", "type": "quantitative", "scale": {"domain": [0, 300], "nice": false},
 "axis": {"title": "Time in store [min]", "values": [0, 50, 100, 150, 200, 250, 300], "grid": true, "gridDash": [3, 9], "gridColor": "#111111", "gridWidth": 2, "domain": false, "ticks": true, "tickColor": "#999999", "tickSize": 14, "tickWidth": 1, "labelFont": "Liberation Serif", "labelFontSize": 40, "labelColor": "black", "labelPadding": 30, "labelFlush": false, "titleFont": "Liberation Serif", "titleFontSize": 45, "titleFontWeight": "bold", "titleColor": "black", "titlePadding": 14}},
"y": {"field": "pct", "type": "quantitative", "scale": {"domain": [0, 25], "nice": false},
 "axis": {"title": "Debunched beam", "values": [0, 5, 10, 15, 20, 25], "labelExpr": "datum.value + '%'", "grid": true, "gridDash": [3, 9], "gridColor": "#111111", "gridWidth": 2, "domain": false, "ticks": true, "tickColor": "#999999", "tickSize": 14, "tickWidth": 1, "labelFont": "Liberation Serif", "labelFontSize": 40, "labelColor": "black", "labelPadding": 22, "labelFlush": false, "titleFont": "Liberation Serif", "titleFontSize": 44, "titleFontWeight": "bold", "titleColor": "black", "titlePadding": 12}},
"color": {"field": "series", "type": "nominal", "title": null,
 "scale": {"domain": ["Blue", "Yellow", "Linear fit"], "range": ["#1b1b9e", "#e8833a", "#000000"]},
 "legend": {"orient": "none", "legendX": 80, "legendY": 54, "title": null, "padding": 0,
  "labelFont": "Liberation Serif", "labelFontSize": 40, "labelFontWeight": "bold", "labelColor": "black", "labelLimit": 400, "labelOffset": 12, "rowPadding": 5, "symbolOpacity": 1}},
"shape": {"field": "series", "type": "nominal", "title": null, "scale": {"domain": ["Blue", "Yellow", "Linear fit"], "range": ["diamond", "circle", "M-4.5,-0.5L4.5,-0.5L4.5,0.5L-4.5,0.5Z"]}}
}
},
{
"data": {"name": "fit"},
"mark": {"type": "line", "strokeWidth": 6},
"encoding": {
"x": {"field": "time", "type": "quantitative"},
"y": {"field": "pct", "type": "quantitative"},
"color": {"field": "series", "type": "nominal", "title": null}
}
}
]
}
